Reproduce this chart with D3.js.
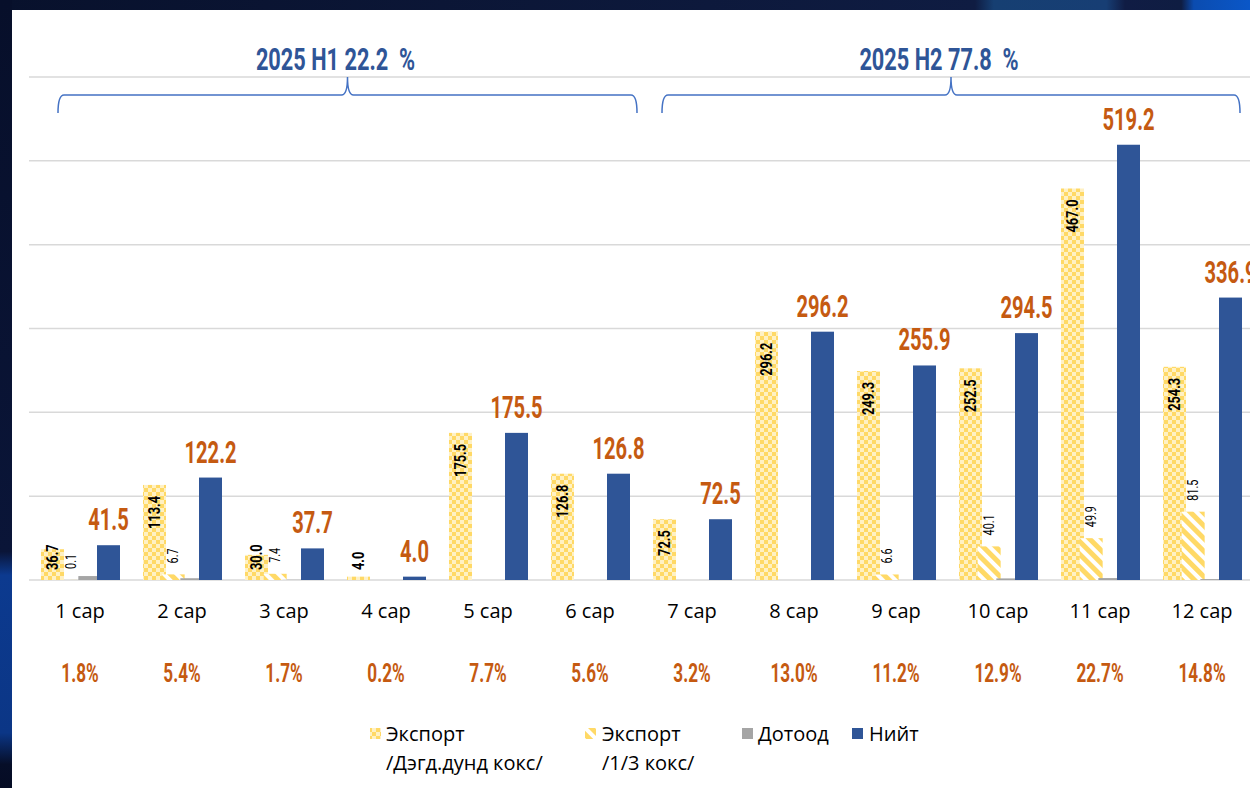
<!DOCTYPE html>
<html>
<head>
<meta charset="utf-8">
<script src="https://cdn.jsdelivr.net/npm/d3@7"></script>
<style>
  body { margin: 0; background: #0a1432; }
  svg { display: block; }
  .cond { font-family: Roboto, sans-serif; font-weight: bold; }
</style>
</head>
<body>
<div id="chart"></div>
<script>
// data
var months = ["1 сар", "2 сар", "3 сар", "4 сар", "5 сар", "6 сар",
              "7 сар", "8 сар", "9 сар", "10 сар", "11 сар", "12 сар"];
var exportDagd = [36.7, 113.4, 30.0, 4.0, 175.5, 126.8, 72.5, 296.2, 249.3, 252.5, 467.0, 254.3];
var export13   = [0.1, 6.7, 7.4, 0, 0, 0, 0, 0, 6.6, 40.1, 49.9, 81.5];
var dotood     = [4.7, 2.1, 0.3, 0, 0, 0, 0, 0, 0, 1.9, 2.3, 1.1];
var niit       = [41.5, 122.2, 37.7, 4.0, 175.5, 126.8, 72.5, 296.2, 255.9, 294.5, 519.2, 336.9];
var shares     = ["1.8%", "5.4%", "1.7%", "0.2%", "7.7%", "5.6%",
                  "3.2%", "13.0%", "11.2%", "12.9%", "22.7%", "14.8%"];
var halfLabels = ["2025 H1 22.2  %", "2025 H2 77.8  %"];
var halfRanges = [[0, 5], [6, 11]];
var yTicks = [0, 100, 200, 300, 400, 500, 600];
var seriesKeys = ["dagd", "k13", "dotood", "niit"];
var legendLines = [["Экспорт", "/Дэгд.дунд кокс/"], ["Экспорт", "/1/3 кокс/"], ["Дотоод"], ["Нийт"]];

var W = 1250, H = 788;
var svg = d3.select("#chart").append("svg").attr("width", W).attr("height", H);
var defs = svg.append("defs");

// frame gradients
var gTop = defs.append("linearGradient").attr("id", "gTop");
[[0, "#08112c"], [0.78, "#0f1c42"], [0.795, "#163f72"], [0.885, "#173e74"], [0.9, "#101c44"],
 [0.945, "#0f1d42"], [0.955, "#0b4cb0"], [1, "#0a57c8"]].forEach(function(s) {
    gTop.append("stop").attr("offset", s[0]).attr("stop-color", s[1]);
});
var gLeft = defs.append("linearGradient").attr("id", "gLeft").attr("x2", 0).attr("y2", 1);
[[0, "#070f2a"], [0.7, "#0a1538"], [0.73, "#0c3a8f"], [0.93, "#0b3686"], [0.97, "#060e28"], [1, "#050c24"]].forEach(function(s) {
    gLeft.append("stop").attr("offset", s[0]).attr("stop-color", s[1]);
});

// bar patterns
var checker = defs.append("pattern").attr("id", "checker")
    .attr("patternUnits", "userSpaceOnUse").attr("width", 8).attr("height", 8);
checker.append("rect").attr("width", 8).attr("height", 8).attr("fill", "#fff1c4");
checker.append("rect").attr("width", 4).attr("height", 4).attr("fill", "#ffd966");
checker.append("rect").attr("x", 4).attr("y", 4).attr("width", 4).attr("height", 4).attr("fill", "#ffd966");

var diag = defs.append("pattern").attr("id", "diag")
    .attr("patternUnits", "userSpaceOnUse").attr("width", 9).attr("height", 9)
    .attr("patternTransform", "rotate(-45)");
diag.append("rect").attr("width", 9).attr("height", 9).attr("fill", "#ffffff");
diag.append("rect").attr("width", 5).attr("height", 9).attr("fill", "#ffd966");

var fills = { dagd: "url(#checker)", k13: "url(#diag)", dotood: "#a5a5a5", niit: "#2f5597" };
var values = { dagd: exportDagd, k13: export13, dotood: dotood, niit: niit };

// background frame
svg.append("rect").attr("width", W).attr("height", H).attr("fill", "#ffffff");
svg.append("rect").attr("width", W).attr("height", 10).attr("fill", "url(#gTop)");
svg.append("rect").attr("y", 0).attr("width", 12).attr("height", H).attr("fill", "url(#gLeft)");

// scales
var x0 = d3.scaleBand().domain(months).range([29, 1253]).padding(0);
var x1 = d3.scalePoint().domain(seriesKeys).range([12, 68]);
var barW = 23;
var y = d3.scaleLinear().domain([0, 600]).range([580, 77]);

// gridlines
svg.append("g")
    .selectAll("line")
    .data(yTicks)
    .enter()
    .append("line")
    .attr("x1", 29).attr("x2", W)
    .attr("y1", function(d) { return y(d); })
    .attr("y2", function(d) { return y(d); })
    .attr("stroke", "#d9d9d9")
    .attr("stroke-width", 1.5);

// bars
var rows = months.map(function(m, i) {
    return seriesKeys.map(function(k) { return { month: m, key: k, value: values[k][i] }; });
});
svg.append("g")
    .selectAll("g")
    .data(rows)
    .enter()
    .append("g")
    .selectAll("rect")
    .data(function(d) { return d.filter(function(b) { return b.value > 0; }); })
    .enter()
    .append("rect")
    .attr("x", function(d) { return x0(d.month) + x1(d.key); })
    .attr("y", function(d) { return y(d.value); })
    .attr("width", barW)
    .attr("height", function(d) { return y(0) - y(d.value); })
    .attr("fill", function(d) { return fills[d.key]; });

// labels on the export bars
months.forEach(function(m, i) {
    var cx = x0(m) + x1("dagd") + barW / 2 + 5;
    var top = y(exportDagd[i]);
    var inside = y(0) - top >= 50;
    svg.append("text")
        .attr("class", "cond")
        .attr("transform", "translate(" + cx + "," + (inside ? top + 11 : 570) + ") rotate(-90) scale(0.8,1)")
        .attr("text-anchor", inside ? "end" : "start")
        .style("font-size", "16px")
        .attr("fill", "#000")
        .text(exportDagd[i].toFixed(1));

    if (export13[i] > 0) {
        var cx2 = x0(m) + x1("k13") + barW / 2 + 5;
        svg.append("text")
            .attr("transform", "translate(" + cx2 + "," + (y(export13[i]) - 11) + ") rotate(-90) scale(0.72,1)")
            .attr("text-anchor", "start")
            .style("font-family", "Roboto, sans-serif")
            .style("font-size", "15px")
            .attr("fill", "#000")
            .text(export13[i].toFixed(1));
    }

    // totals above blue bars
    svg.append("text")
        .attr("class", "cond")
        .attr("transform", "translate(" + (x0(m) + x1("niit") + barW / 2) + "," + (y(niit[i]) - 15) + ") scale(0.65,1)")
        .attr("text-anchor", "middle")
        .style("font-size", "31px")
        .attr("fill", "#c55a11")
        .text(niit[i].toFixed(1));

    // month names and shares
    svg.append("text")
        .attr("x", x0(m) + x0.bandwidth() / 2)
        .attr("y", 618)
        .attr("text-anchor", "middle")
        .style("font-family", "'Open Sans', sans-serif")
        .style("font-size", "20px")
        .attr("fill", "#000")
        .text(m);

    svg.append("text")
        .attr("class", "cond")
        .attr("transform", "translate(" + (x0(m) + x0.bandwidth() / 2) + ",682) scale(0.66,1)")
        .attr("text-anchor", "middle")
        .style("font-size", "26px")
        .attr("fill", "#c55a11")
        .text(shares[i]);
});

// half-year braces
var braceOffsets = [[29, -4], [21, -13]];
halfRanges.forEach(function(r, i) {
    var a = x0(months[r[0]]) + braceOffsets[i][0];
    var b = x0(months[r[1]]) + x0.bandwidth() + braceOffsets[i][1];
    var c = (a + b) / 2;
    var p = d3.path();
    p.moveTo(a, 113);
    p.quadraticCurveTo(a, 95, a + 6, 95);
    p.lineTo(c - 6, 95);
    p.quadraticCurveTo(c, 95, c, 77);
    p.quadraticCurveTo(c, 95, c + 6, 95);
    p.lineTo(b - 6, 95);
    p.quadraticCurveTo(b, 95, b, 113);
    svg.append("path").attr("d", p.toString())
        .attr("fill", "none").attr("stroke", "#4472c4").attr("stroke-width", 1.5);

    svg.append("text")
        .attr("class", "cond")
        .attr("transform", "translate(" + (c - 12) + ",70) scale(0.68,1)")
        .attr("text-anchor", "middle")
        .style("font-size", "32px")
        .style("white-space", "pre")
        .attr("fill", "#2f5597")
        .text(halfLabels[i]);
});

// legend
var legendX = [[370, 386], [585, 602], [742, 758], [852, 869]];
seriesKeys.forEach(function(k, i) {
    svg.append("rect")
        .attr("x", legendX[i][0]).attr("y", 728)
        .attr("width", 11).attr("height", 11)
        .attr("fill", fills[k]);
    legendLines[i].forEach(function(t, j) {
        svg.append("text")
            .attr("x", legendX[i][1])
            .attr("y", 741 + j * 29)
            .style("font-family", "'Open Sans', sans-serif")
            .style("font-size", "20px")
            .attr("fill", "#000")
            .text(t);
    });
});
</script>
</body>
</html>
